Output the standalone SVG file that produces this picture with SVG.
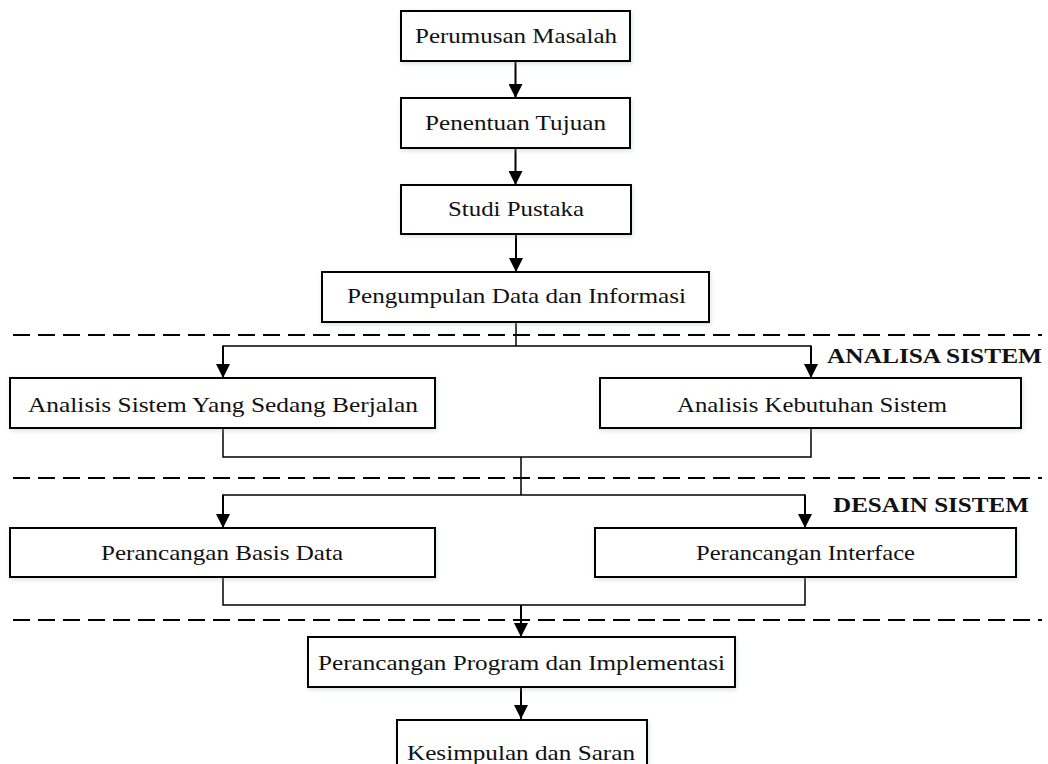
<svg xmlns="http://www.w3.org/2000/svg" width="1048" height="764" viewBox="0 0 1048 764">
<style>
.box{fill:#fff;stroke:#000;stroke-width:2;filter:url(#sh)}
.lbl{font-family:"Liberation Serif","Times New Roman",serif;font-size:22px;fill:#111}
.hdr{font-family:"Liberation Serif","Times New Roman",serif;font-size:22px;font-weight:bold;fill:#111}
.arr{fill:none;stroke:#000;stroke-width:2;marker-end:url(#ah)}
.ln{fill:none;stroke:#000;stroke-width:1.5}
.dash{fill:none;stroke:#000;stroke-width:2;stroke-dasharray:17 8}
</style>
<defs>
<marker id="ah" markerUnits="userSpaceOnUse" markerWidth="16" markerHeight="14" refX="14" refY="7" orient="auto">
<path d="M0,0 L14,7 L0,14 Z" fill="#000"/>
</marker>
<filter id="sh" x="-5%" y="-20%" width="110%" height="150%">
<feDropShadow dx="1" dy="2" stdDeviation="2" flood-color="#9aa" flood-opacity="0.35"/>
</filter>
</defs>
<rect width="1048" height="764" fill="#fff"/>
<g id="dividers">
<line class="dash" x1="13" y1="335" x2="1042" y2="335"/>
<line class="dash" x1="13" y1="478" x2="1042" y2="478"/>
<line class="dash" x1="13" y1="620" x2="1042" y2="620"/>
</g>
<g id="connectors">
<line class="arr" x1="515.5" y1="61" x2="515.5" y2="98"/>
<line class="arr" x1="515.5" y1="148" x2="515.5" y2="185"/>
<line class="arr" x1="516" y1="234" x2="516" y2="272"/>
<polyline class="ln" points="516,322 516,346"/>
<polyline class="ln" points="223,346 811,346"/>
<line class="arr" x1="223" y1="345.5" x2="223" y2="378"/>
<line class="arr" x1="811" y1="345.5" x2="811" y2="378"/>
<polyline class="ln" points="223,428 223,457 811,457 811,428"/>
<polyline class="ln" points="521,457 521,495"/>
<polyline class="ln" points="223,495 805,495"/>
<line class="arr" x1="223" y1="494.5" x2="223" y2="528"/>
<line class="arr" x1="805" y1="494.5" x2="805" y2="528"/>
<polyline class="ln" points="223,577 223,605 805,605 805,577"/>
<line class="arr" x1="521" y1="605" x2="521" y2="637"/>
<line class="arr" x1="521" y1="687" x2="521" y2="719"/>
</g>
<g id="n1"><rect class="box" x="401" y="11" width="229" height="50"/><text class="lbl" x="415" y="43" textLength="202" lengthAdjust="spacingAndGlyphs">Perumusan Masalah</text></g>
<g id="n2"><rect class="box" x="401" y="98" width="229" height="50"/><text class="lbl" x="425" y="130" textLength="181" lengthAdjust="spacingAndGlyphs">Penentuan Tujuan</text></g>
<g id="n3"><rect class="box" x="401" y="185" width="230" height="49"/><text class="lbl" x="448" y="216" textLength="136" lengthAdjust="spacingAndGlyphs">Studi Pustaka</text></g>
<g id="n4"><rect class="box" x="322" y="272" width="387" height="50"/><text class="lbl" x="347" y="303" textLength="339" lengthAdjust="spacingAndGlyphs">Pengumpulan Data dan Informasi</text></g>
<g id="n5"><rect class="box" x="10" y="378" width="425" height="50"/><text class="lbl" x="28" y="412" textLength="390" lengthAdjust="spacingAndGlyphs">Analisis Sistem Yang Sedang Berjalan</text></g>
<g id="n6"><rect class="box" x="600" y="378" width="421" height="50"/><text class="lbl" x="677" y="412" textLength="270" lengthAdjust="spacingAndGlyphs">Analisis Kebutuhan Sistem</text></g>
<g id="n7"><rect class="box" x="10" y="528" width="425" height="49"/><text class="lbl" x="101" y="560" textLength="242" lengthAdjust="spacingAndGlyphs">Perancangan Basis Data</text></g>
<g id="n8"><rect class="box" x="595" y="528" width="421" height="49"/><text class="lbl" x="696" y="560" textLength="219" lengthAdjust="spacingAndGlyphs">Perancangan Interface</text></g>
<g id="n9"><rect class="box" x="308" y="637" width="427" height="50"/><text class="lbl" x="318" y="670" textLength="407" lengthAdjust="spacingAndGlyphs">Perancangan Program dan Implementasi</text></g>
<g id="n10"><rect class="box" x="397" y="720" width="250" height="52"/><text class="lbl" x="407" y="760" textLength="228" lengthAdjust="spacingAndGlyphs">Kesimpulan dan Saran</text></g>
<g id="labels">
<text class="hdr" x="827" y="363" textLength="215" lengthAdjust="spacingAndGlyphs">ANALISA SISTEM</text>
<text class="hdr" x="833" y="512" textLength="196" lengthAdjust="spacingAndGlyphs">DESAIN SISTEM</text>
</g>
</svg>
